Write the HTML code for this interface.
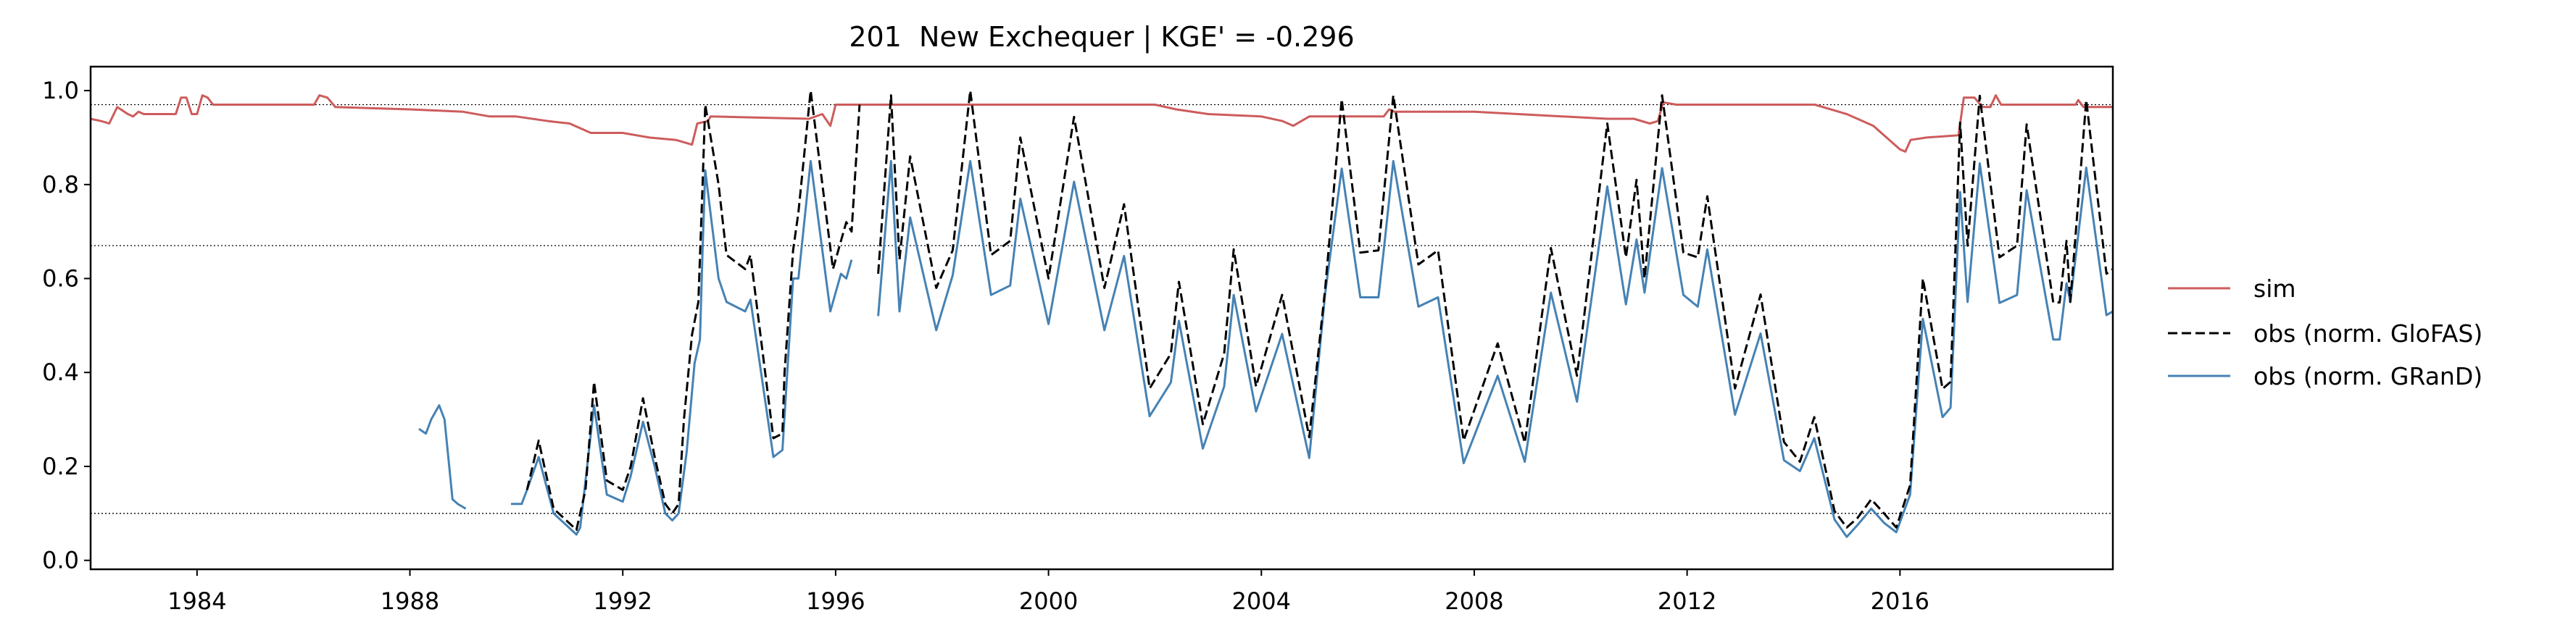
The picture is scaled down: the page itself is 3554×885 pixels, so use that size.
<!DOCTYPE html>
<html><head><meta charset="utf-8">
<style>
html,body{margin:0;padding:0;background:#fff;}
svg{display:block;font-family:"DejaVu Sans","Liberation Sans",sans-serif;}
</style></head>
<body>
<svg id="chart" width="3554" height="885" viewBox="0 0 3554 885" xmlns="http://www.w3.org/2000/svg">
<rect width="3554" height="885" fill="#fff"/>
<text x="1520" y="64" font-size="38" text-anchor="middle" fill="#000">201&#160; New Exchequer | KGE' = -0.296</text>
<g id="grid"></g>
<g id="series"></g>
<g id="axes"></g>
<g>
<line x1="2991" y1="398" x2="3077" y2="398" stroke="#cd5c5c" stroke-width="3"/>
<text x="3109" y="410" font-size="33">sim</text>
<line x1="2991" y1="460" x2="3077" y2="460" stroke="#000" stroke-width="3" stroke-dasharray="13,6"/>
<text x="3109" y="472" font-size="33">obs (norm. GloFAS)</text>
<line x1="2991" y1="519" x2="3077" y2="519" stroke="#4682b4" stroke-width="3"/>
<text x="3109" y="531" font-size="33">obs (norm. GRanD)</text>
</g>
</svg>
<script>
const xTicks=[1984,1988,1992,1996,2000,2004,2008,2012,2016];
const yTicks=[0.0,0.2,0.4,0.6,0.8,1.0];
const hRefs=[0.97,0.67,0.10];
const simT=[1982.0,1982.2,1982.35,1982.5,1982.7,1982.8,1982.9,1983.0,1983.6,1983.7,1983.8,1983.9,1984.0,1984.1,1984.2,1984.3,1986.2,1986.3,1986.45,1986.6,1988.0,1989.0,1989.5,1990.0,1990.6,1991.0,1991.4,1992.0,1992.5,1993.0,1993.3,1993.4,1993.6,1993.65,1995.5,1995.75,1995.9,1996.0,2002.0,2002.4,2003.0,2004.0,2004.4,2004.6,2004.9,2005.0,2005.8,2006.3,2006.4,2006.5,2007.5,2008.0,2010.5,2011.0,2011.3,2011.45,2011.55,2011.8,2014.4,2015.0,2015.5,2016.0,2016.1,2016.2,2016.5,2017.1,2017.2,2017.4,2017.55,2017.7,2017.8,2017.9,2019.3,2019.35,2019.45,2020.0];
const simV=[0.94,0.935,0.93,0.965,0.95,0.945,0.955,0.95,0.95,0.985,0.985,0.95,0.95,0.99,0.985,0.97,0.97,0.99,0.985,0.965,0.96,0.955,0.945,0.945,0.935,0.93,0.91,0.91,0.9,0.895,0.885,0.93,0.935,0.945,0.94,0.95,0.925,0.97,0.97,0.96,0.95,0.945,0.935,0.925,0.945,0.945,0.945,0.945,0.96,0.955,0.955,0.955,0.94,0.94,0.93,0.935,0.975,0.97,0.97,0.95,0.925,0.875,0.87,0.895,0.9,0.905,0.985,0.985,0.965,0.965,0.99,0.97,0.97,0.98,0.965,0.965];
const glofasT=[1990.2,1990.42,1990.7,1991.13,1991.3,1991.46,1991.7,1992.0,1992.15,1992.38,1992.6,1992.8,1992.93,1993.05,1993.15,1993.3,1993.42,1993.5,1993.55,1993.8,1993.95,1994.3,1994.4,1994.83,1995.0,1995.04,1995.2,1995.3,1995.53,1995.95,1996.2,1996.3,1996.45,1996.5,1996.8,1997.04,1997.2,1997.4,1997.89,1998.2,1998.53,1998.92,1999.28,1999.47,2000.0,2000.48,2001.05,2001.42,2001.9,2002.3,2002.45,2002.9,2003.3,2003.48,2003.9,2004.39,2004.9,2005.2,2005.51,2005.86,2006.2,2006.48,2006.95,2007.32,2007.8,2008.44,2008.95,2009.44,2009.93,2010.5,2010.85,2011.05,2011.2,2011.53,2011.93,2012.2,2012.38,2012.9,2013.38,2013.82,2014.12,2014.39,2014.77,2015.0,2015.2,2015.46,2015.7,2015.93,2016.19,2016.43,2016.8,2016.95,2017.13,2017.27,2017.5,2017.87,2018.2,2018.38,2018.88,2019.0,2019.13,2019.2,2019.5,2019.88,2020.0];
const glofasV=[0.15,0.255,0.11,0.065,0.15,0.38,0.17,0.15,0.2,0.345,0.22,0.12,0.1,0.12,0.3,0.48,0.55,0.8,0.97,0.8,0.65,0.62,0.65,0.26,0.27,0.4,0.66,0.74,1.0,0.62,0.72,0.7,0.97,null,0.61,0.99,0.64,0.86,0.58,0.66,1.0,0.65,0.68,0.9,0.6,0.944,0.58,0.758,0.366,0.44,0.593,0.29,0.44,0.662,0.37,0.565,0.262,0.58,0.982,0.655,0.66,0.99,0.63,0.66,0.255,0.462,0.25,0.665,0.393,0.93,0.645,0.81,0.6,0.99,0.655,0.645,0.775,0.366,0.566,0.252,0.21,0.305,0.105,0.07,0.09,0.13,0.1,0.07,0.16,0.6,0.365,0.38,0.932,0.67,0.989,0.645,0.67,0.928,0.549,0.549,0.68,0.55,0.98,0.61,0.62];
const grandT=[1988.17,1988.3,1988.4,1988.55,1988.65,1988.8,1988.9,1989.05,1989.06,1989.9,1990.1,1990.2,1990.42,1990.7,1991.13,1991.2,1991.46,1991.7,1992.0,1992.15,1992.38,1992.6,1992.8,1992.93,1993.05,1993.2,1993.35,1993.45,1993.5,1993.55,1993.8,1993.95,1994.3,1994.4,1994.83,1995.0,1995.2,1995.3,1995.53,1995.9,1996.1,1996.2,1996.3,1996.35,1996.8,1997.04,1997.2,1997.4,1997.89,1998.2,1998.53,1998.92,1999.28,1999.47,2000.0,2000.48,2001.05,2001.42,2001.9,2002.3,2002.45,2002.9,2003.3,2003.48,2003.9,2004.39,2004.9,2005.2,2005.51,2005.86,2006.2,2006.3,2006.48,2006.95,2007.32,2007.8,2008.44,2008.95,2009.44,2009.93,2010.5,2010.85,2011.05,2011.2,2011.53,2011.93,2012.2,2012.38,2012.9,2013.38,2013.82,2014.12,2014.39,2014.77,2015.0,2015.2,2015.46,2015.7,2015.93,2016.19,2016.43,2016.8,2016.95,2017.13,2017.27,2017.5,2017.87,2018.2,2018.38,2018.88,2019.0,2019.13,2019.2,2019.5,2019.88,2020.0];
const grandV=[0.28,0.27,0.3,0.33,0.3,0.13,0.12,0.11,null,0.12,0.12,0.15,0.22,0.1,0.055,0.07,0.33,0.14,0.125,0.18,0.295,0.2,0.1,0.085,0.1,0.23,0.42,0.47,0.66,0.83,0.6,0.55,0.53,0.555,0.22,0.235,0.6,0.6,0.85,0.53,0.61,0.6,0.64,null,0.52,0.85,0.53,0.73,0.49,0.607,0.85,0.565,0.585,0.77,0.503,0.806,0.49,0.648,0.307,0.379,0.51,0.238,0.37,0.565,0.317,0.482,0.218,0.57,0.834,0.56,0.56,0.66,0.85,0.54,0.56,0.207,0.393,0.21,0.57,0.338,0.796,0.545,0.683,0.57,0.835,0.565,0.54,0.662,0.31,0.483,0.213,0.19,0.26,0.087,0.05,0.075,0.11,0.08,0.06,0.14,0.514,0.305,0.325,0.784,0.55,0.845,0.548,0.565,0.788,0.47,0.47,0.59,0.55,0.836,0.522,0.53];

const L=125,R=2915,T=92,B=786;
const X0=1982.0,X1=2020.0,Y0=-0.019,Y1=1.051;
const sx=v=>L+(v-X0)/(X1-X0)*(R-L);
const sy=v=>B-(v-Y0)/(Y1-Y0)*(B-T);
const NS="http://www.w3.org/2000/svg";
function mk(tag,attrs,parent){const e=document.createElementNS(NS,tag);for(const k in attrs)e.setAttribute(k,attrs[k]);parent.appendChild(e);return e;}
const grid=document.getElementById('grid'),series=document.getElementById('series'),axes=document.getElementById('axes');
hRefs.forEach(v=>{
  const l=mk('line',{x1:L,x2:R,y1:sy(v),y2:sy(v),stroke:'#000','stroke-width':1.3,'stroke-dasharray':'2,3'},grid);
  
  
});
function pathD(ts,vs){let d='',pen=false;for(let i=0;i<ts.length;i++){if(vs[i]===null){pen=false;continue;}d+=(pen?'L':'M')+sx(ts[i]).toFixed(1)+','+sy(vs[i]).toFixed(1);pen=true;}return d;}
const pSim=mk('path',{d:pathD(simT,simV),fill:'none',stroke:'#cd5c5c','stroke-width':3,'stroke-linejoin':'round'},series);


const pGr=mk('path',{d:pathD(grandT,grandV),fill:'none',stroke:'#4682b4','stroke-width':3,'stroke-linejoin':'round'},series);


const pGl=mk('path',{d:pathD(glofasT,glofasV),fill:'none',stroke:'#000','stroke-width':3,'stroke-dasharray':'13,6','stroke-linejoin':'round'},series);


const fr=mk('rect',{x:L,y:T,width:R-L,height:B-T,fill:'none',stroke:'#000','stroke-width':2.5},axes);


yTicks.forEach(v=>{
  const y=sy(v);
  const t=mk('line',{x1:L-9,x2:L,y1:y,y2:y,stroke:'#000','stroke-width':2},axes);
  
  
  const tx=mk('text',{x:L-16,y:y+11,'font-size':32,'text-anchor':'end'},axes);
  tx.textContent=v.toFixed(1);
  
  
});
xTicks.forEach(v=>{
  const x=sx(v);
  const t=mk('line',{x1:x,x2:x,y1:B,y2:B+9,stroke:'#000','stroke-width':2},axes);
  
  
  const tx=mk('text',{x:x,y:841,'font-size':32,'text-anchor':'middle'},axes);
  tx.textContent=String(v);
  
  
});
</script>
</body></html>
